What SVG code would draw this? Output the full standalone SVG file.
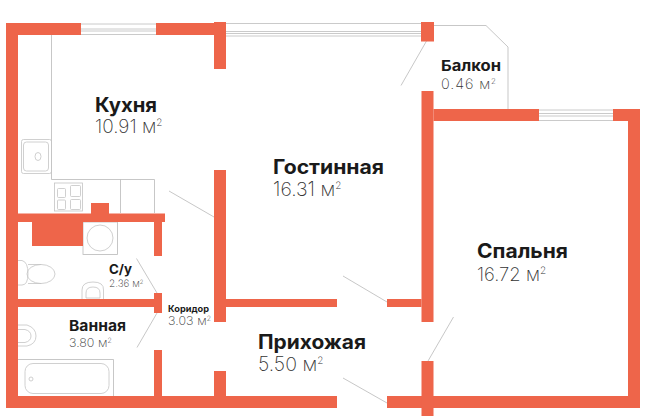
<svg xmlns="http://www.w3.org/2000/svg" width="650" height="416" viewBox="0 0 650 416">
<style>
.w{fill:#ee654a}
.l{fill:none;stroke:#b9b9b9;stroke-width:.8}
.f{fill:none;stroke:#c4c4c4;stroke-width:.8}
.win{fill:none;stroke:#bdbdbd;stroke-width:.8}
.t{font-family:Inter,"Noto Sans",sans-serif;font-weight:700;fill:#1a1a1a}
.a{font-family:Inter,"Noto Sans",sans-serif;font-weight:200;fill:#333}
</style>
<rect width="650" height="416" fill="#fff"/>
<g id="fixtures">
<path class="l" d="M51.500 35V179.500H154.500V213M120.500 179.500V213"/>
<rect class="f" x="21.500" y="139.500" width="30" height="34" rx="2"/>
<rect class="f" x="23.500" y="142" width="25" height="29" rx="3"/>
<ellipse class="f" cx="38" cy="156.500" rx="3" ry="4"/>
<rect class="f" x="54.500" y="183" width="28" height="28"/>
<rect class="f" x="57.500" y="188.500" width="8" height="9" rx="1"/>
<rect class="f" x="57.500" y="200" width="8" height="9.500" rx="1"/>
<rect class="f" x="70.500" y="185.500" width="10" height="11" rx="1"/>
<rect class="f" x="70.500" y="199.500" width="10" height="10" rx="1"/>
<rect class="l" x="83" y="222" width="34.500" height="32.500"/>
<circle class="f" cx="100" cy="238" r="13"/>
<path class="f" d="M18 260.500H22Q28 262 28 273.500T22 285H18"/>
<path class="f" d="M28 264.500H41M28 283.500H41"/>
<ellipse class="f" cx="41" cy="274" rx="14" ry="9.500"/>
<path class="f" d="M82 299V290Q82 282 93 282T103.500 290V299"/>
<path class="f" d="M86 298V293Q86 287 93 287T100 293V298M86 298H100"/>
<path class="f" d="M18 325H27Q36 328 36 336T27 346H18"/>
<path class="f" d="M18 329.500H25Q31 331 31 336T25 342.500H18"/>
<path class="l" d="M18 359.500H113.500V396"/>
<rect class="f" x="25" y="363.500" width="84" height="30" rx="8"/>
<circle class="f" cx="31" cy="379" r="2"/>
</g>
<g id="windows">
<path class="win" d="M81 24H156M81 29H156M81 31H156M81 34.500H156"/>
<path class="win" d="M226 23.500H421M226 31.500H421M226 33.500H421M226 36H421"/>
<path class="win" d="M539 110H613M539 113.500H613M539 116H613M539 120.500H613"/>
</g>
<g id="connectors">
<path class="l" d="M433 25.500H486L508 47V109"/>
<path class="l" d="M426.500 41L401 85.500"/>
<path class="l" d="M169 191L214 217"/>
<path class="l" d="M136.500 258.500L157 293"/>
<path class="l" d="M137 347.500L157 313"/>
<path class="l" d="M343 276L387 302"/>
<path class="l" d="M343 378L387 403"/>
<path class="l" d="M453.500 317L428 361"/>
</g>
<g id="walls">
<rect class="w" x="6" y="23" width="12" height="385"/>
<rect class="w" x="6" y="23" width="75" height="12"/>
<rect class="w" x="156" y="23" width="70" height="12"/>
<rect class="w" x="214" y="22" width="12" height="47"/>
<rect class="w" x="18" y="213.500" width="147" height="8.500"/>
<rect class="w" x="91" y="203" width="18" height="11"/>
<rect class="w" x="32" y="222" width="51" height="24"/>
<rect class="w" x="154" y="222" width="8" height="34"/>
<rect class="w" x="18" y="299" width="136" height="8"/>
<rect class="w" x="154" y="293" width="8" height="20"/>
<rect class="w" x="154" y="350" width="8" height="46"/>
<rect class="w" x="6" y="396" width="331" height="12"/>
<rect class="w" x="214" y="371" width="12" height="25"/>
<rect class="w" x="214" y="170" width="12" height="152"/>
<rect class="w" x="226" y="299" width="111" height="8"/>
<rect class="w" x="421" y="22" width="13" height="19.500"/>
<rect class="w" x="421.500" y="91" width="12" height="231"/>
<rect class="w" x="387" y="299" width="34.500" height="8"/>
<rect class="w" x="433.500" y="109" width="105.500" height="12"/>
<rect class="w" x="613" y="109" width="27" height="12"/>
<rect class="w" x="628" y="109" width="12" height="299"/>
<rect class="w" x="387" y="396" width="253" height="12"/>
<rect class="w" x="421.500" y="361" width="12" height="55"/>
</g>
<g id="labels">
<g id="kitchen"><text class="t" x="95" y="112" font-size="20" textLength="62" lengthAdjust="spacingAndGlyphs">Кухня</text><text class="a" x="95" y="133" font-size="19">10.91 м<tspan font-size="10" dy="-7">2</tspan></text></g>
<g id="living"><text class="t" x="273" y="174" font-size="20" textLength="111" lengthAdjust="spacingAndGlyphs">Гостинная</text><text class="a" x="273" y="196" font-size="19.500">16.31 м<tspan font-size="10" dy="-7">2</tspan></text></g>
<g id="balcony"><text class="t" x="441" y="70.500" font-size="15" textLength="60" lengthAdjust="spacingAndGlyphs">Балкон</text><text class="a" x="441" y="88.500" font-size="14.500" textLength="55" lengthAdjust="spacing">0.46 м<tspan font-size="8" dy="-5">2</tspan></text></g>
<g id="bedroom"><text class="t" x="477" y="258" font-size="20" textLength="91" lengthAdjust="spacingAndGlyphs">Спальня</text><text class="a" x="477" y="281" font-size="18.500">16.72 м<tspan font-size="10" dy="-7">2</tspan></text></g>
<g id="wc"><text class="t" x="109" y="274" font-size="13" textLength="23" lengthAdjust="spacingAndGlyphs">С/у</text><text class="a" x="109" y="287" font-size="10">2.36 м<tspan font-size="6" dy="-3.500">2</tspan></text></g>
<g id="corridor"><text class="t" x="168" y="311.500" font-size="9" textLength="41" lengthAdjust="spacingAndGlyphs">Коридор</text><text class="a" x="168" y="325" font-size="12.500" textLength="43" lengthAdjust="spacing">3.03 м<tspan font-size="7" dy="-4">2</tspan></text></g>
<g id="bath"><text class="t" x="69" y="331" font-size="15" textLength="57" lengthAdjust="spacingAndGlyphs">Ванная</text><text class="a" x="69" y="347" font-size="12.500">3.80 м<tspan font-size="7" dy="-4">2</tspan></text></g>
<g id="hall"><text class="t" x="258" y="349" font-size="20" textLength="108" lengthAdjust="spacingAndGlyphs">Прихожая</text><text class="a" x="258" y="371" font-size="19.500">5.50 м<tspan font-size="10" dy="-7">2</tspan></text></g>
</g>
</svg>
